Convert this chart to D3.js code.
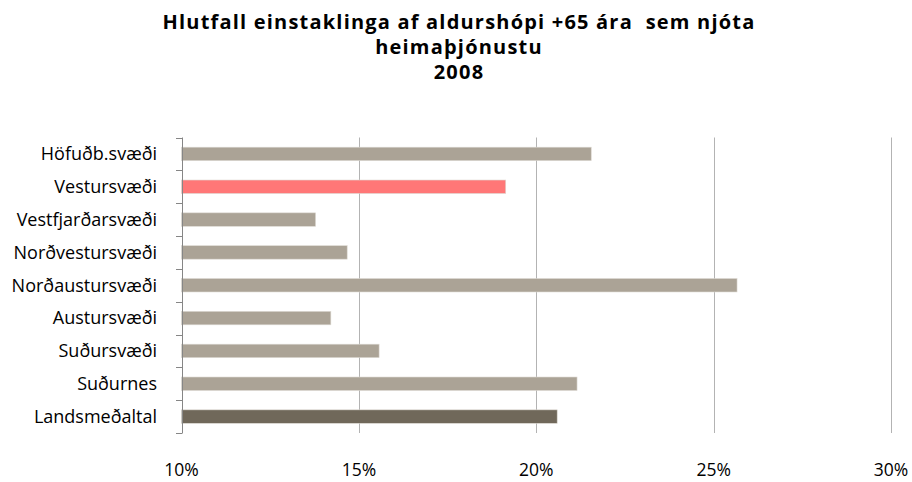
<!DOCTYPE html>
<html>
<head>
<meta charset="utf-8">
<script src="https://cdn.jsdelivr.net/npm/d3@7"></script>
<style>
  body { margin: 0; background: #fff; }
  svg { display: block; font-family: "Open Sans", sans-serif; }
</style>
</head>
<body>
<div id="chart"></div>
<script>
// regions, top to bottom
var regions = [
  "Höfuðb.svæði",
  "Vestursvæði",
  "Vestfjarðarsvæði",
  "Norðvestursvæði",
  "Norðaustursvæði",
  "Austursvæði",
  "Suðursvæði",
  "Suðurnes",
  "Landsmeðaltal"
];

// share of 65+ receiving home care, percent
var shares = [21.55, 19.14, 13.78, 14.67, 25.66, 14.21, 15.57, 21.15, 20.59];

var xTicks = [10, 15, 20, 25, 30];

var titleLines = [
  "Hlutfall einstaklinga af aldurshópi +65 ára  sem njóta",
  "heimaþjónustu",
  "2008"
];

var width = 912, height = 482;
var margin = {top: 137.5, right: 21, bottom: 49, left: 181.5};

var svg = d3.select("#chart").append("svg")
  .attr("width", width).attr("height", height);

// title
svg.append("g").selectAll("text")
  .data(titleLines)
  .enter().append("text")
    .attr("x", 459)
    .attr("y", function(d, i) { return 29 + i * 25; })
    .attr("text-anchor", "middle")
    .style("font-weight", "bold")
    .style("font-size", "20px")
    .style("letter-spacing", "1.2px")
    .style("white-space", "pre")
    .text(function(d) { return d; });

var x = d3.scaleLinear()
  .domain([10, 30])
  .range([margin.left, width - margin.right]);

var y = d3.scaleBand()
  .domain(regions)
  .range([margin.top, height - margin.bottom])
  .paddingInner(0.59)
  .paddingOuter(0.295);

// vertical gridlines
svg.append("g").selectAll("line")
  .data(xTicks.slice(1))
  .enter().append("line")
    .attr("x1", function(d) { return Math.round(x(d)) + 0.5; })
    .attr("x2", function(d) { return Math.round(x(d)) + 0.5; })
    .attr("y1", margin.top)
    .attr("y2", height - margin.bottom)
    .attr("stroke", "#b3b3b3");

// bars
svg.append("g").selectAll("rect")
  .data(regions)
  .enter().append("rect")
    .attr("x", x(10))
    .attr("y", function(d) { return y(d); })
    .attr("width", function(d, i) { return x(shares[i]) - x(10); })
    .attr("height", y.bandwidth())
    .attr("fill", function(d, i) {
      if (d == "Vestursvæði") return "#ff7777";
      if (d == "Landsmeðaltal") return "#70685a";
      return "#aba396";
    })
    .attr("stroke", "#ddd9d2")
    .attr("stroke-width", 0.6);

// left axis with ticks between the bands
var yAxis = svg.append("g").attr("class", "axis");
yAxis.append("line")
  .attr("x1", Math.round(x(10)) + 0.5).attr("x2", Math.round(x(10)) + 0.5)
  .attr("y1", margin.top).attr("y2", height - margin.bottom)
  .attr("stroke", "#868686");
yAxis.selectAll(".tick")
  .data(d3.range(regions.length + 1))
  .enter().append("line")
    .attr("x1", Math.round(x(10)) - 6)
    .attr("x2", Math.round(x(10)) + 0.5)
    .attr("y1", function(i) { return Math.round(margin.top + i * y.step()) + 0.5; })
    .attr("y2", function(i) { return Math.round(margin.top + i * y.step()) + 0.5; })
    .attr("stroke", "#868686");

// category labels
svg.append("g").selectAll("text")
  .data(regions)
  .enter().append("text")
    .attr("x", 157)
    .attr("y", function(d) { return y(d) + y.bandwidth() / 2; })
    .attr("dy", "0.35em")
    .attr("text-anchor", "end")
    .style("font-size", "18px")
    .text(function(d) { return d; });

// x tick labels
svg.append("g").selectAll("text")
  .data(xTicks)
  .enter().append("text")
    .attr("x", function(d) { return x(d); })
    .attr("y", 476)
    .attr("text-anchor", "middle")
    .style("font-size", "17.5px")
    .text(function(d) { return d + "%"; });
</script>
</body>
</html>
